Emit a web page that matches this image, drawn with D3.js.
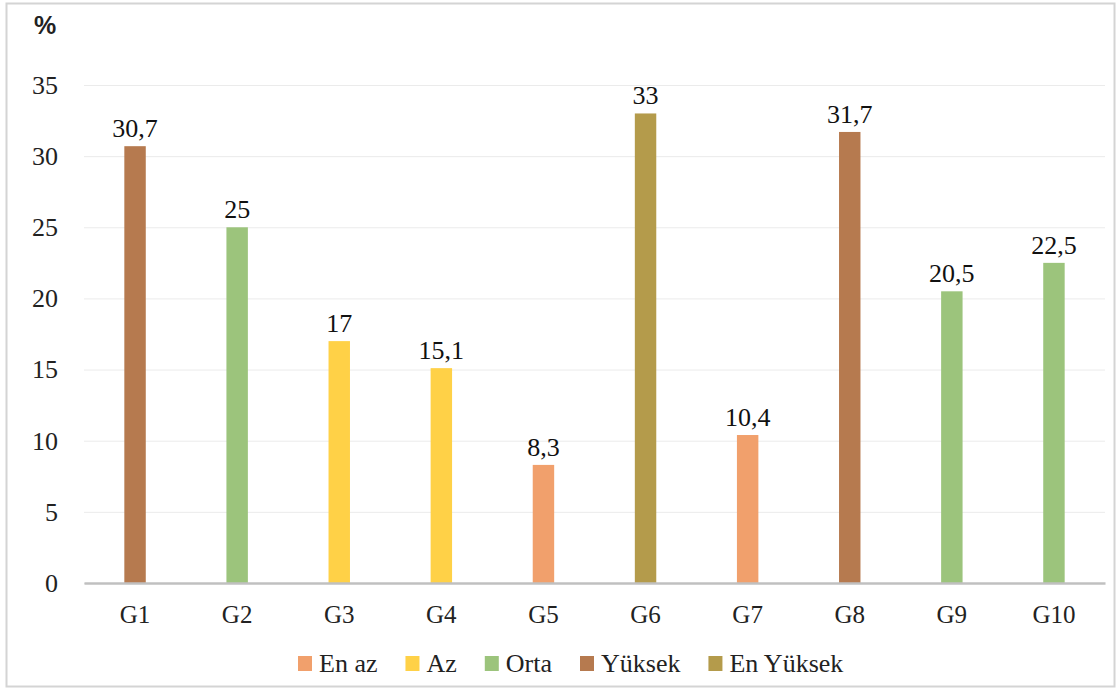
<!DOCTYPE html>
<html>
<head>
<meta charset="utf-8">
<script src="https://cdn.jsdelivr.net/npm/d3@7"></script>
<style>
  body { margin: 0; background: #fff; }
  svg { display: block; }
</style>
</head>
<body>
<div id="chart"></div>
<script>
// Data
var categories = ["G1", "G2", "G3", "G4", "G5", "G6", "G7", "G8", "G9", "G10"];
var values = [30.7, 25, 17, 15.1, 8.3, 33, 10.4, 31.7, 20.5, 22.5];
var levels = ["Yüksek", "Orta", "Az", "Az", "En az", "En Yüksek", "En az", "Yüksek", "Orta", "Orta"];
var seriesNames = ["En az", "Az", "Orta", "Yüksek", "En Yüksek"];
var seriesColors = ["#f1a06c", "#ffd147", "#9cc47c", "#b67a4f", "#b49b4b"];
var yTicks = [0, 5, 10, 15, 20, 25, 30, 35];

var width = 1120,
    height = 688;
var margin = {top: 85, right: 15, bottom: 105, left: 84};
var serif = "Liberation Serif";

var svg = d3.select("#chart")
            .append("svg")
              .attr("width", width)
              .attr("height", height);

// Outer frame
svg.append("rect")
   .attr("x", 6.5)
   .attr("y", 3.5)
   .attr("width", 1108)
   .attr("height", 683)
   .attr("fill", "#fff")
   .attr("stroke", "#d4d4d4")
   .attr("stroke-width", 2);

var x = d3.scaleBand()
          .domain(categories)
          .range([margin.left, width - margin.right])
          .padding(0);

var y = d3.scaleLinear()
          .domain([0, 35])
          .range([height - margin.bottom, margin.top]);

var color = d3.scaleOrdinal()
              .domain(seriesNames)
              .range(seriesColors);

// Gridlines
svg.append("g")
   .attr("transform", "translate(" + margin.left + ",0)")
   .call(d3.axisLeft(y).tickValues(yTicks).tickSize(-(width - margin.left - margin.right)).tickFormat(""))
   .call(function(g) { g.select(".domain").remove(); })
   .selectAll("line")
     .attr("stroke", "#ebebeb")
     .attr("stroke-width", 1);

// Y tick labels
var yAxis = svg.append("g")
   .attr("transform", "translate(" + margin.left + ",0)")
   .call(d3.axisLeft(y).tickValues(yTicks).tickSize(0).tickPadding(26));
yAxis.select(".domain").remove();
yAxis.selectAll("text")
     .style("font-family", serif)
     .style("font-size", "26px")
     .attr("fill", "#222");

// Bars
var barW = x.bandwidth() * 0.21;
var data = categories.map(function(c, i) { return {cat: c, value: values[i], level: levels[i]}; });

svg.append("g")
   .selectAll("rect")
   .data(data)
   .enter()
   .append("rect")
     .attr("x", function(d) { return x(d.cat) + x.bandwidth() / 2 - barW / 2; })
     .attr("y", function(d) { return y(d.value); })
     .attr("width", barW)
     .attr("height", function(d) { return y(0) - y(d.value); })
     .attr("fill", function(d) { return color(d.level); });

// Value labels
svg.append("g")
   .selectAll("text")
   .data(data)
   .enter()
   .append("text")
     .attr("x", function(d) { return x(d.cat) + x.bandwidth() / 2; })
     .attr("y", function(d) { return y(d.value) - 9; })
     .attr("text-anchor", "middle")
     .style("font-family", serif)
     .style("font-size", "26px")
     .attr("fill", "#111")
     .text(function(d) { return String(d.value).replace(".", ","); });

// X axis
var xAxis = svg.append("g")
   .attr("transform", "translate(0," + y(0) + ")")
   .call(d3.axisBottom(x).tickSize(0).tickPadding(22));
xAxis.select(".domain")
     .attr("stroke", "#c0c0c0")
     .attr("stroke-width", 2.5);
xAxis.selectAll("text")
     .style("font-family", serif)
     .style("font-size", "25px")
     .attr("fill", "#222");

// Unit label
svg.append("text")
   .attr("x", 45)
   .attr("y", 34)
   .attr("text-anchor", "middle")
   .style("font-family", "Liberation Sans")
   .style("font-weight", "bold")
   .style("font-size", "25px")
   .attr("fill", "#222")
   .text("%");

// Legend
var legend = svg.append("g")
                .attr("transform", "translate(298,663)");
var lx = 0;
seriesNames.forEach(function(name) {
  var item = legend.append("g").attr("transform", "translate(" + lx + ",0)");
  item.append("rect")
      .attr("x", 0)
      .attr("y", -7)
      .attr("width", 14)
      .attr("height", 15)
      .attr("fill", color(name));
  var t = item.append("text")
      .attr("x", 21)
      .attr("y", 9)
      .style("font-family", serif)
      .style("font-size", "26px")
      .attr("fill", "#222")
      .text(name);
  lx += 21 + t.node().getComputedTextLength() + 28;
});
</script>
</body>
</html>
